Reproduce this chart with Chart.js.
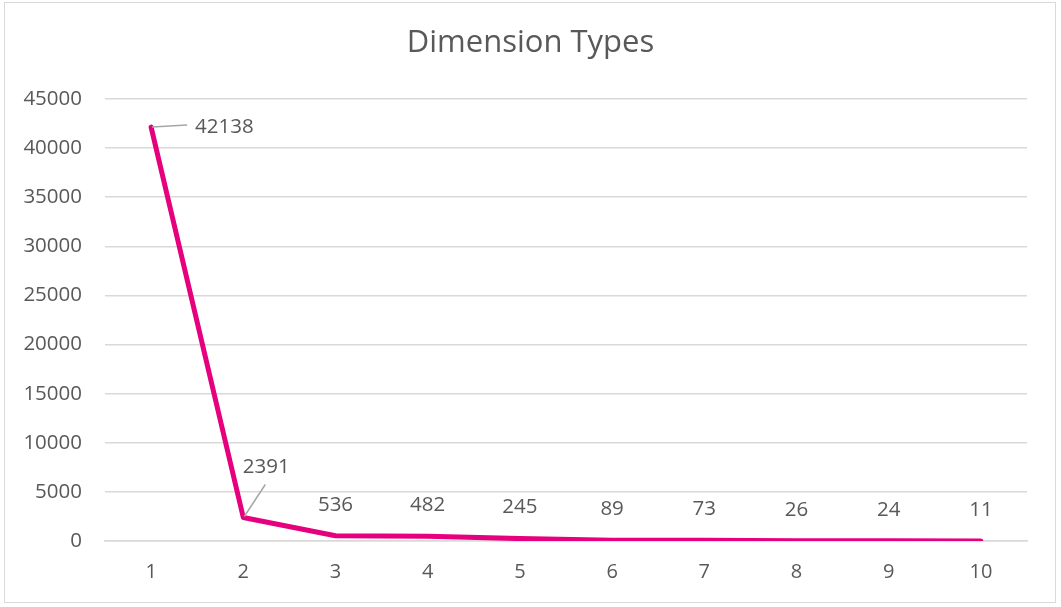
<!DOCTYPE html>
<html>
<head>
<meta charset="utf-8">
<script src="https://cdn.jsdelivr.net/npm/chart.js@4.4.1/dist/chart.umd.min.js"></script>
<style>
  html, body { margin: 0; padding: 0; background: #ffffff; }
  #wrap { width: 1061px; height: 607px; position: relative; }
</style>
</head>
<body>
<div id="wrap"><canvas id="chart" width="1061" height="607"></canvas></div>
<script>
// Number of distinct dimension types per rank
const categories = ['1', '2', '3', '4', '5', '6', '7', '8', '9', '10'];
const counts = [42138, 2391, 536, 482, 245, 89, 73, 26, 24, 11];
const yTicks = [0, 5000, 10000, 15000, 20000, 25000, 30000, 35000, 40000, 45000];

const TEXT = '#595959';
const FONT = '"Open Sans", "Noto Sans", sans-serif';

// Outer frame around the whole chart
const framePlugin = {
  id: 'frame',
  afterDraw(chart) {
    const ctx = chart.ctx;
    ctx.save();
    ctx.strokeStyle = '#d9d9d9';
    ctx.lineWidth = 1;
    ctx.strokeRect(4.5, 2.5, 1051, 600);
    ctx.restore();
  }
};

// Value labels above each point, with leader lines for the first two
const valueLabels = {
  id: 'valueLabels',
  afterDatasetsDraw(chart) {
    const ctx = chart.ctx;
    const meta = chart.getDatasetMeta(0);
    const data = chart.data.datasets[0].data;
    ctx.save();
    ctx.font = '20.5px ' + FONT;
    ctx.fillStyle = TEXT;
    ctx.textBaseline = 'middle';
    meta.data.forEach((pt, i) => {
      const txt = String(data[i]);
      if (i === 0) {
        ctx.strokeStyle = '#a6a6a6';
        ctx.lineWidth = 1.5;
        ctx.beginPath();
        ctx.moveTo(pt.x + 1, pt.y);
        ctx.lineTo(pt.x + 36, pt.y - 2);
        ctx.stroke();
        ctx.textAlign = 'left';
        ctx.fillText(txt, pt.x + 44, pt.y);
      } else if (i === 1) {
        ctx.strokeStyle = '#a6a6a6';
        ctx.lineWidth = 1.5;
        ctx.beginPath();
        ctx.moveTo(pt.x + 1, pt.y - 1);
        ctx.lineTo(pt.x + 22, pt.y - 33);
        ctx.stroke();
        ctx.textAlign = 'center';
        ctx.fillText(txt, pt.x + 23, pt.y - 50);
      } else {
        ctx.textAlign = 'center';
        ctx.fillText(txt, pt.x, pt.y - 31);
      }
    });
    ctx.restore();
  }
};

new Chart(document.getElementById('chart'), {
  type: 'line',
  data: {
    labels: categories,
    datasets: [{
      data: counts,
      borderColor: '#e6007e',
      borderWidth: 5,
      borderCapStyle: 'round',
      borderJoinStyle: 'round',
      pointRadius: 0,
      tension: 0,
      fill: false,
      yAxisID: 'y'
    }]
  },
  options: {
    responsive: false,
    animation: false,
    layout: { padding: 0 },
    plugins: {
      legend: { display: false },
      tooltip: { enabled: false },
      title: {
        display: true,
        text: 'Dimension Types',
        color: TEXT,
        font: { family: FONT, size: 31, weight: '400', lineHeight: 1.2 },
        padding: { top: 24.7, bottom: 37.1 }
      }
    },
    scales: {
      x: {
        offset: true,
        grid: { display: false, drawTicks: false },
        border: { display: true, color: '#d9d9d9', width: 1.5 },
        ticks: { color: TEXT, font: { family: FONT, size: 20 }, padding: 19, maxRotation: 0 },
        afterFit(scale) { scale.height = 66; }
      },
      y: {
        min: 0,
        max: 45000,
        afterBuildTicks(scale) { scale.ticks = yTicks.map(v => ({ value: v })); },
        grid: { color: '#d9d9d9', lineWidth: 1.5, drawTicks: false },
        border: { display: false },
        ticks: {
          color: TEXT,
          font: { family: FONT, size: 20.5 },
          padding: 23,
          callback: (v) => String(v)
        },
        afterFit(scale) { scale.width = 105; }
      },
      // empty right-hand margin strip beside the plot
      yRight: {
        position: 'right',
        display: true,
        min: 0,
        max: 45000,
        grid: { display: false, drawTicks: false },
        border: { display: false },
        ticks: { display: false },
        afterFit(scale) { scale.width = 34; }
      }
    }
  },
  plugins: [framePlugin, valueLabels]
});
</script>
</body>
</html>
